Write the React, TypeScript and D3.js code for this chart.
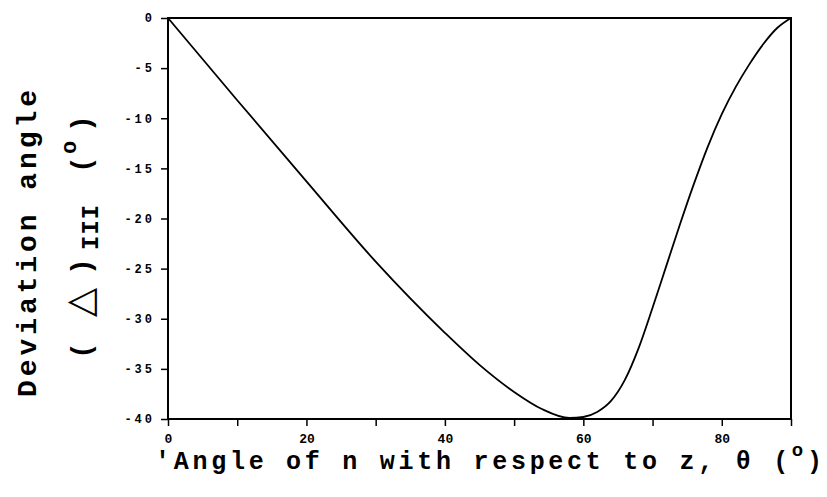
import React, { useEffect, useRef } from "react";
import * as d3 from "d3";

// values
const theta = [0, 10, 20, 30, 40, 45, 50, 54, 58, 60, 62, 64, 66, 68, 70, 72, 74, 76, 78, 80, 82, 84, 86, 88, 90];
const deviation = [0, -8.2, -16.3, -24.3, -31.4, -34.6, -37.3, -39.0, -39.9, -39.8, -39.3, -38.2, -36.1, -32.9, -28.9, -24.7, -20.5, -16.5, -12.8, -9.6, -6.9, -4.6, -2.6, -1.0, 0];
const xTicks = [0, 10, 20, 30, 40, 50, 60, 70, 80, 90];
const xTickLabels = ["0", "", "20", "", "40", "", "60", "", "80", ""];
const yTicks = [0, -5, -10, -15, -20, -25, -30, -35, -40];

const W = 827;
const H = 497;
const mono = "'Liberation Mono', 'DejaVu Sans Mono', monospace";

const App = () => {
    const ref = useRef<SVGSVGElement>(null);

    useEffect(() => {
        const svg = d3.select(ref.current);
        svg.selectAll("*").remove();

        const x = d3.scaleLinear().domain([0, 90]).range([168, 791]);
        const y = d3.scaleLinear().domain([-40, 0]).range([419, 18]);

        // frame
        svg.append("rect")
            .attr("x", x(0))
            .attr("y", y(0))
            .attr("width", x(90) - x(0))
            .attr("height", y(-40) - y(0))
            .attr("fill", "none")
            .attr("stroke", "#000")
            .attr("stroke-width", 2);

        const xAxis = svg.append("g")
            .attr("transform", `translate(0,${y(-40)})`)
            .call(d3.axisBottom(x).tickValues(xTicks).tickSize(7).tickSizeOuter(0)
                .tickFormat((d, i) => xTickLabels[i]));
        xAxis.select(".domain").remove();
        xAxis.selectAll("line").attr("stroke-width", 1.5);
        xAxis.selectAll("text")
            .attr("font-family", mono)
            .attr("font-weight", "bold")
            .attr("font-size", 13)
            .attr("y", 24)
            .attr("dy", 0);

        const yAxis = svg.append("g")
            .attr("transform", `translate(${x(0)},0)`)
            .call(d3.axisLeft(y).tickValues(yTicks).tickSize(7).tickSizeOuter(0)
                .tickFormat((d) => String(d)));
        yAxis.select(".domain").remove();
        yAxis.selectAll("line").attr("stroke-width", 1.5);
        yAxis.selectAll("text")
            .attr("font-family", mono)
            .attr("font-weight", "bold")
            .attr("font-size", 12)
            .attr("letter-spacing", 3)
            .attr("x", -13);

        const pts = theta.map((t, i) => [t, deviation[i]] as [number, number]);
        const line = d3.line<[number, number]>()
            .x((d) => x(d[0]))
            .y((d) => y(d[1]))
            .curve(d3.curveMonotoneX);
        svg.append("path")
            .datum(pts)
            .attr("d", line)
            .attr("fill", "none")
            .attr("stroke", "#000")
            .attr("stroke-width", 1.8);

        // x title
        const xt = svg.append("text")
            .attr("x", 155)
            .attr("y", 469)
            .attr("font-family", mono)
            .attr("font-weight", "bold")
            .attr("font-size", 25)
            .attr("textLength", 667)
            .attr("lengthAdjust", "spacing");
        xt.append("tspan").text("'Angle of n with respect to z, \u03b8 (");
        xt.append("tspan").attr("font-size", 19).attr("dy", -13).text("o");
        xt.append("tspan").attr("dy", 13).text(")");

        // y title, first line
        svg.append("text")
            .attr("transform", "translate(36,397) rotate(-90)")
            .attr("font-family", mono)
            .attr("font-weight", "bold")
            .attr("font-size", 28)
            .attr("textLength", 307)
            .attr("lengthAdjust", "spacing")
            .text("Deviation angle");

        // y title, second line
        const g2 = svg.append("g").attr("transform", "translate(90,357) rotate(-90)");
        const piece = (u: number, v: number, s: string, size: number, font = mono, weight = "bold") =>
            g2.append("text")
                .attr("x", u)
                .attr("y", v)
                .attr("font-family", font)
                .attr("font-size", size)
                .attr("font-weight", weight)
                .text(s);
        piece(-2, 0, "(", 28);
        piece(40, 2, "\u25b3", 38, "'DejaVu Sans', sans-serif", "normal");
        piece(82, 0, ")", 28);
        piece(107, 8, "III", 24).attr("letter-spacing", 1);
        piece(184, 0, "(", 28);
        piece(203, -14, "o", 22);
        piece(225, 0, ")", 28);
    }, []);

    return (
        <div>
            <svg ref={ref} width={W} height={H} style={{ position: "absolute", left: 0, top: 0, background: "#fff" }}></svg>
        </div>
    );
};

export default App;
